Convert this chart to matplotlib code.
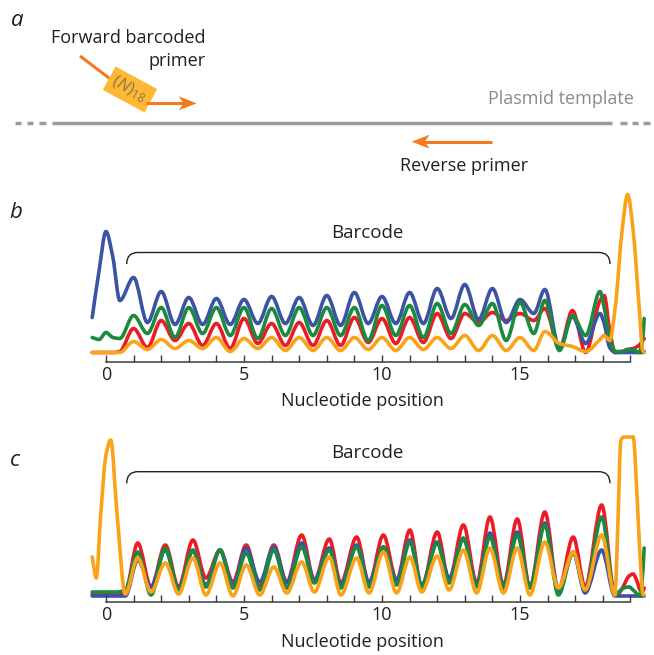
import numpy as np
import matplotlib
matplotlib.use('Agg')
import matplotlib.pyplot as plt
from matplotlib.path import Path
from matplotlib.patches import PathPatch, Polygon

plt.rcParams['font.family'] = ['Open Sans', 'DejaVu Sans']
plt.rcParams['mathtext.fontset'] = 'custom'
plt.rcParams['mathtext.rm'] = 'Open Sans'
plt.rcParams['mathtext.it'] = 'Open Sans:italic'

# ---- trace data (signal height) ----
pos_b = [-0.5, -0.25, 0, 0.25, 0.5,
         1, 1.5, 2, 2.5, 3, 3.5, 4, 4.5, 5, 5.5,
         6, 6.5, 7, 7.5, 8, 8.5, 9, 9.5, 10, 10.5,
         11, 11.5, 12, 12.5, 13, 13.5, 14, 14.5, 15, 15.5,
         15.9, 16.43, 16.9, 17.38, 17.9, 18.05, 18.25, 18.45, 18.7, 18.9, 19.1, 19.3, 19.45, 19.5]
blue_b = [35, 82, 121, 95, 52,
          75, 30, 61, 28, 55, 28, 54, 28, 53, 29,
          56, 29, 55, 27, 57, 27, 60, 29, 56, 29,
          60, 29, 64, 34, 68, 33, 64, 30, 53, 39,
          63, 4, 36, 9, 39, 29, 5, 0, 0, 0, 0, 0, 0, 1]
green_b = [15, 13, 20, 15, 14,
           37, 19, 45, 15, 45, 19, 45, 17, 45, 14,
           44, 17, 45, 17, 45, 17, 45, 12, 47, 17,
           47, 15, 49, 19, 48, 27, 49, 12, 50, 19,
           52, 2, 37, 17, 61, 45, 15, 1, 1, 3, 3, 0, 15, 34]
red_b = [0, 0, 0, 0, 1,
         24, 5, 32, 12, 29, 7, 29, 4, 34, 9,
         29, 7, 30, 7, 32, 7, 35, 10, 34, 9,
         35, 10, 39, 14, 39, 30, 40, 32, 39, 32,
         44, 4, 42, 0, 52, 57, 22, 0, 1, 3, 4, 7, 12, 14]
orange_b = [0, 0, 0, 0, 0,
            11, 3, 13, 4, 12, 4, 15, 1, 14, 4,
            15, 2, 15, 2, 15, 2, 15, 3, 15, 2,
            15, 3, 15, 4, 17, 2, 17, 2, 15, 2,
            21, 9, 6, 1, 13, 17, 12, 45, 122, 158, 122, 52, 2, 0]

pos_c = [-0.5, -0.35, -0.2, 0.0, 0.17, 0.4, 0.7,
         1.15, 1.63, 2.15, 2.63, 3.15, 3.62, 4.13, 4.6, 5.08, 5.57,
         6.08, 6.55, 7.09, 7.55, 8.09, 8.51, 9.08, 9.53, 10.05, 10.53,
         11.01, 11.44, 12.0, 12.43, 12.95, 13.43, 13.91, 14.4, 14.9, 15.36,
         15.9, 16.39, 16.93, 17.36, 17.96,
         18.44, 18.55, 18.65, 18.75, 18.95, 19.1, 19.25, 19.35, 19.45, 19.5]
blue_c = [0, 0, 0, 0, 0, 0, 0,
          36, 9, 46, 7, 45, 11, 46, 11, 48, 14,
          49, 13, 53, 16, 48, 11, 51, 14, 49, 16,
          56, 11, 54, 18, 57, 11, 63, 9, 64, 9,
          73, 6, 43, 3, 46,
          0, 0, 0, 0, 0, 0, 0, 0, 0, 0]
green_c = [4, 4, 4, 4, 4, 4, 6,
           44, 1, 48, 6, 46, 9, 46, 8, 43, 6,
           46, 8, 49, 13, 46, 8, 49, 9, 49, 11,
           54, 9, 53, 13, 58, 9, 59, 8, 61, 8,
           71, 1, 44, 6, 79,
           1, 3, 6, 8, 9, 6, 2, 0, 25, 48]
red_c = [2, 2, 2, 2, 2, 2, 4,
         53, 9, 51, 9, 56, 18, 46, 14, 51, 9,
         51, 14, 61, 16, 57, 13, 59, 13, 61, 16,
         66, 9, 64, 16, 71, 13, 79, 11, 77, 9,
         84, 6, 59, 9, 91,
         1, 2, 5, 10, 20, 22, 14, 6, 5, 8]
orange_c = [39, 18, 78, 141, 156, 82, 2,
            38, 4, 33, 2, 38, 1, 33, 0, 31, 1,
            29, 3, 34, 4, 39, 1, 38, 3, 44, 3,
            39, 4, 40, 6, 46, 3, 48, 3, 48, 1,
            54, 8, 44, 6, 61,
            1, 75, 155, 159, 159, 159, 95, 40, 2, 1]

tick_pos = list(range(20))
tick_labels = ['0', '', '', '', '', '5', '', '', '', '', '10', '', '', '', '', '15', '', '', '', '']
barcode_span = (0.75, 18.26)

colors = {'red': '#ec1c24', 'blue': '#3a53a4', 'green': '#1c8a3e', 'orange': '#f9a31b'}
txt = '#231f20'
W, H = 654, 655


def trace_path(x, y):
    # monotone cubic through the read values, drawn as bezier segments
    x = np.asarray(x, float)
    y = np.asarray(y, float)
    h = np.diff(x)
    d = np.diff(y) / h
    m = np.zeros_like(y)
    for i in range(1, len(y) - 1):
        if d[i - 1] * d[i] > 0:
            w1 = 2 * h[i] + h[i - 1]
            w2 = h[i] + 2 * h[i - 1]
            m[i] = (w1 + w2) / (w1 / d[i - 1] + w2 / d[i])
    m[0], m[-1] = d[0], d[-1]
    verts = [(x[0], y[0])]
    codes = [Path.MOVETO]
    for i in range(len(h)):
        verts += [(x[i] + h[i] / 3, y[i] + m[i] * h[i] / 3),
                  (x[i + 1] - h[i] / 3, y[i + 1] - m[i + 1] * h[i] / 3),
                  (x[i + 1], y[i + 1])]
        codes += [Path.CURVE4] * 3
    return Path(verts, codes)


def chromatogram(rect, pos, series, ylim, axis_y, bracket_y, label_y):
    ax = fig.add_axes(rect)
    ax.patch.set_alpha(0)
    for name, vals in series:
        ax.add_patch(PathPatch(trace_path(pos, vals), fill=False, edgecolor=colors[name],
                               lw=2.6, capstyle='round', joinstyle='round'))
    ax.set_xlim(-0.6, 19.6)
    ax.set_ylim(*ylim)
    for s in ['top', 'left', 'right']:
        ax.spines[s].set_visible(False)
    ax.spines['bottom'].set_position(('data', axis_y))
    ax.spines['bottom'].set_bounds(0, 19)
    ax.spines['bottom'].set_color('#3c3c3c')
    ax.spines['bottom'].set_linewidth(1.1)
    ax.set_yticks([])
    ax.set_xticks(tick_pos)
    ax.set_xticklabels(tick_labels)
    ax.tick_params(axis='x', direction='in', length=5, width=1, color='#3c3c3c',
                   labelsize=13, labelcolor=txt, pad=3)
    ax.set_xlabel('Nucleotide position', fontsize=13, color=txt)
    ax.xaxis.set_label_coords(0.49, -0.135)
    # barcode bracket
    x0, x1 = barcode_span
    hy = bracket_y[1]
    bverts = [(x0, bracket_y[0]), (x0, hy), (x0 + 0.4, hy), (x1 - 0.4, hy), (x1, hy), (x1, bracket_y[0])]
    bcodes = [Path.MOVETO, Path.CURVE3, Path.CURVE3, Path.LINETO, Path.CURVE3, Path.CURVE3]
    ax.add_patch(PathPatch(Path(bverts, bcodes), fill=False, edgecolor=txt, lw=1.0))
    ax.text(9.45, label_y, 'Barcode', ha='center', va='center', fontsize=13.5, color=txt)
    return ax


fig = plt.figure(figsize=(W / 100, H / 100), dpi=100)

# panel a: schematic drawn in pixel coordinates
sk = fig.add_axes([0, 0, 1, 1])
sk.set_xlim(0, W)
sk.set_ylim(H, 0)
sk.axis('off')

gray = '#9a9b9d'
orange = '#f47920'
sk.plot([52, 612], [122.7, 122.7], color=gray, lw=2.5, solid_capstyle='butt')
for a, b in [(15, 20.7), (26.7, 33.3), (39, 45.7), (620, 626.7), (631.7, 638.3), (643.3, 650)]:
    sk.plot([a, b], [122.7, 122.7], color=gray, lw=2.5, solid_capstyle='butt')
sk.text(634, 99.5, 'Plasmid template', ha='right', va='center', fontsize=13, color='#8a8b8d')


def arrow(x0, x1, y, head=18, half=7):
    sgn = 1 if x1 > x0 else -1
    sk.plot([x0, x1 - sgn * head * 0.7], [y, y], color=orange, lw=2.2, solid_capstyle='butt')
    sk.add_patch(Polygon([(x1, y), (x1 - sgn * head, y - half), (x1 - sgn * head * 0.72, y),
                          (x1 - sgn * head, y + half)], closed=True, color=orange, lw=0))


arrow(491.7, 411.7, 141.7)
sk.text(464, 166, 'Reverse primer', ha='center', va='center', fontsize=13, color=txt)

# forward barcoded primer
ang = np.deg2rad(28.5)
u = np.array([np.cos(ang), np.sin(ang)])
v = np.array([-np.sin(ang), np.cos(ang)])
c = np.array([130.0, 89.5])
corners = [c - 23.7 * u - 13.3 * v, c + 23.7 * u - 13.3 * v, c + 23.7 * u + 13.3 * v, c - 23.7 * u + 13.3 * v]
sk.plot([80, (c - 23.7 * u)[0]], [56, (c - 23.7 * u)[1]], color=orange, lw=2.2, solid_capstyle='butt')
sk.add_patch(Polygon(corners, closed=True, color='#fdb933', lw=0))
arrow(146, 196.7, 103.3)
sk.text(c[0] - 1, c[1] - 1, r'$(N)_{18}$', rotation=-28.5, rotation_mode='anchor',
        ha='center', va='center', fontsize=12.5, color='#8c7650')
sk.text(205.7, 38.3, 'Forward barcoded', ha='right', va='center', fontsize=13, color=txt)
sk.text(205.7, 61, 'primer', ha='right', va='center', fontsize=13, color=txt)

for lab, x, y in [('a', 17.5, 20), ('b', 16, 212), ('c', 15, 461)]:
    sk.text(x, y, lab, ha='center', va='center', fontsize=16, style='italic', color=txt)

# panels b and c
x_left, x_right = 106 - 0.6 * 27.6, 106 + 19.6 * 27.6
rect_b = [x_left / W, (H - 366.5) / H, (x_right - x_left) / W, 189 / H]
rect_c = [x_left / W, (H - 608) / H, (x_right - x_left) / W, 187 / H]

order = ['red', 'blue', 'green', 'orange']
chromatogram(rect_b, pos_b,
             list(zip(order, [red_b, blue_b, green_b, orange_b])),
             (-14, 175), -9.5, (88.5, 100), 119.5)
chromatogram(rect_c, pos_c,
             list(zip(order, [red_c, blue_c, green_c, orange_c])),
             (-12, 175), -6, (112.7, 124.3), 142.7)

fig.savefig('out.png', dpi=100)
